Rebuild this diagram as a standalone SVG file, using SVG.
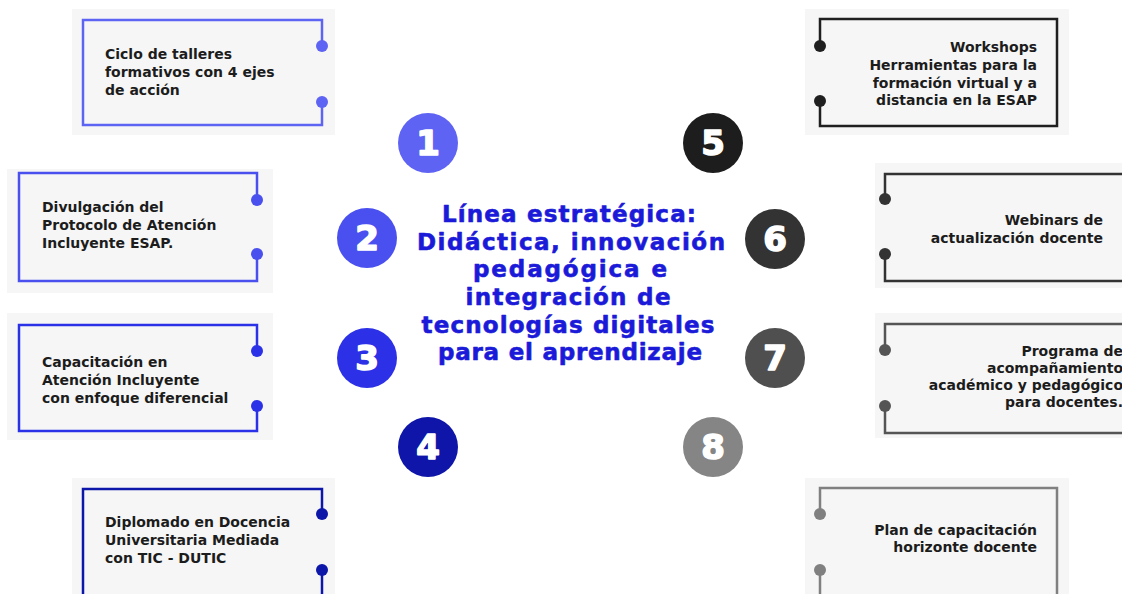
<svg xmlns="http://www.w3.org/2000/svg" width="1122" height="594" viewBox="0 0 1122 594">
<style>
.bg{fill:#f6f6f6}
.br{fill:none;stroke-width:2.5}
.t{font-family:"DejaVu Sans",sans-serif;font-weight:bold;font-size:14px;fill:#1c1c1c}
.r{text-anchor:end}
.num{font-family:"DejaVu Sans",sans-serif;font-weight:bold;font-size:34px;fill:#ffffff;stroke:#ffffff;stroke-width:1.6;stroke-linejoin:round;text-anchor:middle}
.ct{font-family:"DejaVu Sans",sans-serif;font-weight:bold;font-size:23px;fill:#1a1ad8;stroke:#1a1ad8;stroke-width:0.6;stroke-linejoin:round;text-anchor:middle}
</style>
<rect width="1122" height="594" fill="#ffffff"/>
<g id="box1">
<rect class="bg" x="72" y="9" width="263" height="126"/>
<path class="br" stroke="#5d63f2" d="M322,46 V20 H83 V125 H322 V102"/>
<circle cx="322" cy="46" r="6" fill="#5d63f2"/><circle cx="322" cy="102" r="6" fill="#5d63f2"/>
<text class="t" x="105" y="59">Ciclo de talleres</text>
<text class="t" x="105" y="77">formativos con 4 ejes</text>
<text class="t" x="105" y="95">de acción</text>
</g>
<g id="box2">
<rect class="bg" x="7" y="169" width="266" height="124"/>
<path class="br" stroke="#4950ee" d="M257,200 V173 H19 V281 H257 V254"/>
<circle cx="257" cy="200" r="6" fill="#4950ee"/><circle cx="257" cy="254" r="6" fill="#4950ee"/>
<text class="t" x="42" y="212">Divulgación del</text>
<text class="t" x="42" y="230">Protocolo de Atención</text>
<text class="t" x="42" y="248">Incluyente ESAP.</text>
</g>
<g id="box3">
<rect class="bg" x="7" y="313" width="266" height="127"/>
<path class="br" stroke="#2b31e7" d="M257,351 V325 H19 V431 H257 V406"/>
<circle cx="257" cy="351" r="6" fill="#2b31e7"/><circle cx="257" cy="406" r="6" fill="#2b31e7"/>
<text class="t" x="42" y="367">Capacitación en</text>
<text class="t" x="42" y="385">Atención Incluyente</text>
<text class="t" x="42" y="403">con enfoque diferencial</text>
</g>
<g id="box4">
<rect class="bg" x="72" y="478" width="263" height="130"/>
<path class="br" stroke="#0c16a8" d="M322,514 V489 H83 V600 M322,570 V600"/>
<circle cx="322" cy="514" r="6" fill="#0c16a8"/><circle cx="322" cy="570" r="6" fill="#0c16a8"/>
<text class="t" x="105" y="527">Diplomado en Docencia</text>
<text class="t" x="105" y="545">Universitaria Mediada</text>
<text class="t" x="105" y="563">con TIC - DUTIC</text>
</g>
<g id="box5">
<rect class="bg" x="805" y="9" width="264" height="126"/>
<path class="br" stroke="#1f1f1f" d="M820,46 V19 H1057 V126 H820 V101"/>
<circle cx="820" cy="46" r="6" fill="#1f1f1f"/><circle cx="820" cy="101" r="6" fill="#1f1f1f"/>
<text class="t r" x="1037" y="52">Workshops</text>
<text class="t r" x="1037" y="70">Herramientas para la</text>
<text class="t r" x="1037" y="88">formación virtual y a</text>
<text class="t r" x="1037" y="105">distancia en la ESAP</text>
</g>
<g id="box6">
<rect class="bg" x="875" y="163" width="260" height="125"/>
<path class="br" stroke="#333333" d="M885,199 V174 H1126 V281 H885 V254"/>
<circle cx="885" cy="199" r="6" fill="#333333"/><circle cx="885" cy="254" r="6" fill="#333333"/>
<text class="t r" x="1103" y="225">Webinars de</text>
<text class="t r" x="1103" y="243">actualización docente</text>
</g>
<g id="box7">
<rect class="bg" x="875" y="313" width="260" height="125"/>
<path class="br" stroke="#555555" d="M885,350 V324 H1126 V433 H885 V406"/>
<circle cx="885" cy="350" r="6" fill="#555555"/><circle cx="885" cy="406" r="6" fill="#555555"/>
<text class="t r" x="1123" y="356">Programa de</text>
<text class="t r" x="1123" y="373">acompañamiento</text>
<text class="t r" x="1123" y="390">académico y pedagógico</text>
<text class="t r" x="1123" y="407">para docentes.</text>
</g>
<g id="box8">
<rect class="bg" x="805" y="478" width="264" height="130"/>
<path class="br" stroke="#808080" d="M820,514 V488 H1057 V600 M820,570 V600"/>
<circle cx="820" cy="514" r="6" fill="#808080"/><circle cx="820" cy="570" r="6" fill="#808080"/>
<text class="t r" x="1037" y="535">Plan de capacitación</text>
<text class="t r" x="1037" y="552">horizonte docente</text>
</g>
<g id="n1"><circle cx="428" cy="143" r="30" fill="#5f63f3"/><text class="num" x="428" y="155">1</text></g>
<g id="n2"><circle cx="367" cy="238" r="30" fill="#4a50ef"/><text class="num" x="367" y="250">2</text></g>
<g id="n3"><circle cx="367" cy="358" r="30" fill="#2c30e6"/><text class="num" x="367" y="370">3</text></g>
<g id="n4"><circle cx="428" cy="447" r="30" fill="#0e15a8"/><text class="num" x="428" y="459">4</text></g>
<g id="n5"><circle cx="713" cy="143" r="30" fill="#1d1d1d"/><text class="num" x="713" y="155">5</text></g>
<g id="n6"><circle cx="775" cy="239" r="30" fill="#333333"/><text class="num" x="775" y="251">6</text></g>
<g id="n7"><circle cx="775" cy="358" r="30" fill="#4f4f4f"/><text class="num" x="775" y="370">7</text></g>
<g id="n8"><circle cx="713" cy="447" r="30" fill="#858585"/><text class="num" x="713" y="459">8</text></g>
<g id="center">
<text class="ct" x="569" y="222" textLength="254">Línea estratégica:</text>
<text class="ct" x="571" y="250" textLength="308">Didáctica, innovación</text>
<text class="ct" x="570" y="277" textLength="194">pedagógica e</text>
<text class="ct" x="568" y="305" textLength="205">integración de</text>
<text class="ct" x="568" y="333" textLength="293">tecnologías digitales</text>
<text class="ct" x="570" y="360" textLength="264">para el aprendizaje</text>
</g>
</svg>
